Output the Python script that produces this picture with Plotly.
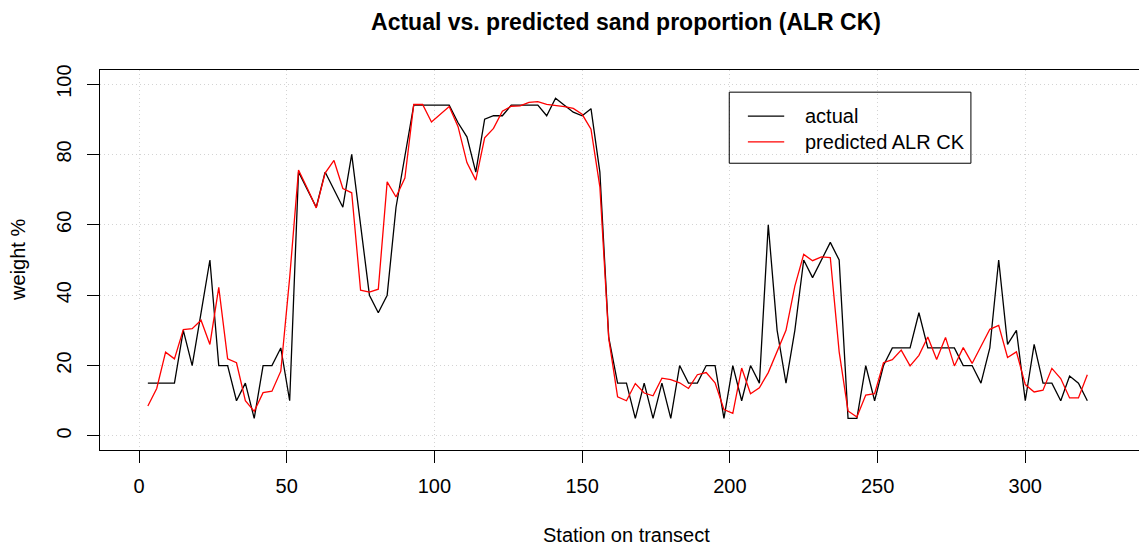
import plotly.graph_objects as go

stations = [3, 6, 9, 12, 15, 18, 21, 24, 27, 30, 33, 36, 39, 42, 45, 48, 51, 54, 57, 60,
            63, 66, 69, 72, 75, 78, 81, 84, 87, 90, 93, 96, 99, 102, 105, 108, 111, 114, 117, 120,
            123, 126, 129, 132, 135, 138, 141, 144, 147, 150, 153, 156, 159, 162, 165, 168, 171, 174, 177, 180,
            183, 186, 189, 192, 195, 198, 201, 204, 207, 210, 213, 216, 219, 222, 225, 228, 231, 234, 237, 240,
            243, 246, 249, 252, 255, 258, 261, 264, 267, 270, 273, 276, 279, 282, 285, 288, 291, 294, 297, 300,
            303, 306, 309, 312, 315, 318, 321]

actual = [15, 15, 15, 15, 30, 20, 35, 50, 20, 20, 10, 15, 5, 20, 20, 25, 10, 75, 70, 65,
          75, 70, 65, 80, 60, 40, 35, 40, 65, 80, 94, 94, 94, 94, 94, 89, 85, 75, 90, 91,
          91, 94, 94, 94, 94, 91, 96, 94, 92, 91, 93, 75, 28, 15, 15, 5, 15, 5, 15, 5,
          20, 15, 15, 20, 20, 5, 20, 10, 20, 15, 60, 30, 15, 30, 50, 45, 50, 55, 50, 5,
          5, 20, 10, 20, 25, 25, 25, 35, 25, 25, 25, 25, 20, 20, 15, 25, 50, 26, 30, 10,
          26, 15, 15, 10, 17, 15, 10]

predicted = [8.5, 13.5, 23.8, 21.9, 30.2, 30.5, 32.9, 26.0, 42.2, 21.9, 20.8, 10.0, 7.0, 12.3, 12.7, 18.4, 45.0, 75.6, 70.3, 64.8,
             74.7, 78.3, 70.3, 69.1, 41.4, 40.9, 41.7, 72.2, 67.9, 73.3, 94.2, 94.2, 89.2, 91.4, 93.6, 87.9, 77.7, 72.7, 84.7, 87.4,
             92.3, 93.7, 93.8, 94.8, 95.0, 94.2, 94.0, 93.6, 93.1, 91.4, 87.2, 70.8, 27.7, 11.1, 10.0, 14.9, 12.2, 11.4, 16.4, 16.0,
             15.1, 13.5, 17.4, 18.0, 15.1, 7.5, 6.4, 19.3, 12.0, 13.7, 18.0, 24.0, 30.0, 42.6, 51.6, 49.8, 50.9, 50.7, 23.9, 7.1,
             5.4, 11.6, 12.0, 20.8, 21.7, 24.4, 19.9, 22.9, 28.1, 21.7, 28.0, 19.9, 25.1, 20.6, 25.3, 30.3, 31.4, 22.3, 23.9, 14.6,
             12.5, 13.0, 19.2, 16.3, 10.8, 10.8, 17.4]

x_ticks = [0, 50, 100, 150, 200, 250, 300]
y_ticks = [0, 20, 40, 60, 80, 100]
series_names = ["actual", "predicted ALR CK"]
series_colors = ["#000000", "#ff0000"]

FONT = "Liberation Sans, Arial, Helvetica, sans-serif"

# the page body has an 8px margin; the figure is sized to fill the rest of the window
W, H = 1139, 537

fig = go.Figure()
fig.add_trace(go.Scatter(x=stations, y=actual, mode="lines", name=series_names[0],
                         line=dict(color=series_colors[0], width=1.3), showlegend=False))
fig.add_trace(go.Scatter(x=stations, y=predicted, mode="lines", name=series_names[1],
                         line=dict(color=series_colors[1], width=1.3), showlegend=False))

# legend (R-style box, positioned in data coordinates)
leg_x0, leg_x1, leg_y0, leg_y1 = 199.8, 281.6, 77.5, 97.7
row_y = [90.9, 83.6]
fig.add_shape(type="rect", xref="x", yref="y", x0=leg_x0, x1=leg_x1, y0=leg_y0, y1=leg_y1,
              line=dict(color="black", width=1), fillcolor="rgba(0,0,0,0)", layer="above")
for name, col, yy in zip(series_names, series_colors, row_y):
    fig.add_shape(type="line", xref="x", yref="y", x0=206.1, x1=218.4, y0=yy, y1=yy,
                  line=dict(color=col, width=1.3))
    fig.add_annotation(x=224.7, y=yy, xref="x", yref="y", text=name, showarrow=False,
                       xanchor="left", yanchor="middle", font=dict(size=20, color="black", family=FONT))

# axis titles
fig.add_annotation(x=0.5024, y=-0.224, xref="paper", yref="paper", text="Station on transect",
                   showarrow=False, xanchor="center", yanchor="middle",
                   font=dict(size=20, color="black", family=FONT))
fig.add_annotation(x=-0.0784, y=0.5, xref="paper", yref="paper", text="weight %",
                   showarrow=False, xanchor="center", yanchor="middle", textangle=-90,
                   font=dict(size=20, color="black", family=FONT))

fig.update_layout(
    width=W, height=H,
    margin=dict(l=92, r=0, t=62, b=95),
    paper_bgcolor="white", plot_bgcolor="white",
    font=dict(family=FONT, size=20, color="black"),
    title=dict(text="<b>Actual vs. predicted sand proportion (ALR CK)</b>",
               xref="container", x=618 / W, xanchor="center",
               yref="container", y=1 - 14 / H, yanchor="middle",
               font=dict(size=23, family=FONT, color="black")),
    xaxis=dict(range=[-13.2, 341.2], tickmode="array", tickvals=x_ticks,
               ticks="outside", ticklen=12, tickwidth=1, tickcolor="black",
               showline=True, linecolor="black", linewidth=1, mirror=True,
               showgrid=True, gridcolor="#d3d3d3", griddash="1px,3px", gridwidth=1,
               zeroline=False, ticklabelstandoff=6,
               tickfont=dict(size=20, family=FONT, color="black")),
    yaxis=dict(range=[-4, 104], tickmode="array", tickvals=y_ticks,
               ticks="outside", ticklen=12, tickwidth=1, tickcolor="black",
               showline=True, linecolor="black", linewidth=1, mirror=False,
               showgrid=True, gridcolor="#d3d3d3", griddash="1px,3px", gridwidth=1,
               zeroline=False, tickangle=-90, ticklabelstandoff=8,
               tickfont=dict(size=20, family=FONT, color="black")),
)

fig.write_html("out.html")
